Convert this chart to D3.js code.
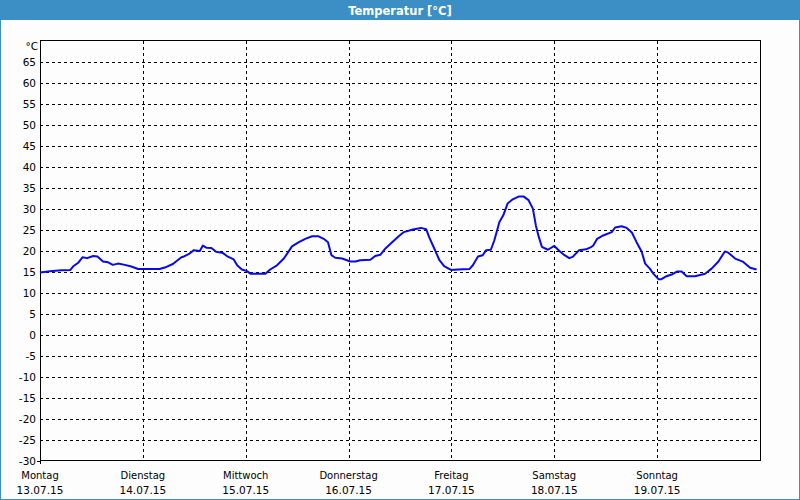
<!DOCTYPE html>
<html>
<head>
<meta charset="utf-8">
<script src="https://cdn.jsdelivr.net/npm/d3@7"></script>
<style>
html,body{margin:0;padding:0;background:#fff;}
svg{display:block;}
</style>
</head>
<body>
<svg id="chart" width="800" height="500"></svg>
<script>
const chartTitle = "Temperatur [°C]";
const unitLabel = "°C";
const dayNames = ["Montag","Dienstag","Mittwoch","Donnerstag","Freitag","Samstag","Sonntag"];
const dayDates = ["13.07.15","14.07.15","15.07.15","16.07.15","17.07.15","18.07.15","19.07.15"];
const yTicks = [-30,-25,-20,-15,-10,-5,0,5,10,15,20,25,30,35,40,45,50,55,60,65];
// hours since Monday 00:00
const hours = [0,2.3,5,7.1,7.7,8.9,9.9,11,12.4,13.4,14.7,15.9,17,18.2,19.8,21.3,22.9,24.4,27.9,29.5,31,33,33.6,34.9,35.9,37.3,38,38.8,40,41.1,42.7,
  43.6,45.2,46,47.1,48.3,49.1,52.6,53.7,55.3,56.9,58.8,60.4,61.9,63.5,65,66.2,67.2,68,68.9,70.5,72.4,73.6,74.7,77.1,78.2,79.4,80.6,82.1,83.7,84.9,
  87,88.9,90.1,90.8,92,93.2,94.3,95.9,97.5,100.2,101,102.2,103.3,104.1,105.2,106,107.2,108.1,109.1,110.3,111.8,112.8,114,115,115.7,116.4,117.1,118.5,120,121.2,122.4,123.5,124.3,125.8,127.4,128.7,
  129.1,130,131.4,133.4,134.2,135.7,136.9,138.1,139.2,140.4,141.2,142.3,143.1,144.3,145,146.2,147.4,148.6,149.7,150.9,152.8,155.2,156.7,158.3,159.8,160.6,162.2,164.1,165.7,167.2];
const temps = [14.9,15.2,15.4,15.5,16.3,17.2,18.5,18.3,18.8,18.7,17.5,17.3,16.7,17.0,16.7,16.3,15.7,15.7,15.7,16.2,16.9,18.5,18.7,19.4,20.2,20.0,21.3,20.8,20.7,19.8,19.5,
  18.8,18.0,16.6,15.6,15.2,14.6,14.6,15.6,16.6,18.2,21.1,22.1,22.9,23.5,23.5,22.9,22.1,19.0,18.4,18.2,17.5,17.5,17.8,17.9,18.8,19.1,20.6,22.0,23.5,24.5,
  25.1,25.5,25.2,23.3,20.6,17.8,16.4,15.5,15.6,15.7,16.6,18.7,19.0,20.2,20.3,22.5,26.9,28.5,31.3,32.3,33.0,33.0,32.1,30.1,26.1,23.3,21.0,20.3,21.2,20.0,19.0,18.3,18.6,20.2,20.4,21.0,
  21.3,22.9,23.7,24.5,25.6,25.9,25.5,24.4,22.1,19.8,17.0,15.8,14.6,13.3,13.3,14.0,14.4,15.1,15.1,14.0,14.0,14.6,15.8,17.5,19.9,19.6,18.2,17.4,16.0,15.6];

const svg = d3.select("#chart");
const W = 800, H = 500;
const m = {left:40, right:760, top:41, bottom:461};
const font = "DejaVu Sans, Verdana, sans-serif";

svg.append("rect").attr("x",0).attr("y",0).attr("width",W).attr("height",H).attr("fill","#fcfdfc");
// window border
svg.append("rect").attr("x",0.5).attr("y",0.5).attr("width",W-1).attr("height",H-1)
  .attr("fill","none").attr("stroke","#3c8fc4").attr("stroke-width",1);
// title bar
svg.append("rect").attr("x",0).attr("y",0).attr("width",W).attr("height",20).attr("fill","#3c8fc4");
svg.append("text").attr("x",400).attr("y",14.5).attr("text-anchor","middle")
  .attr("fill","#fff").attr("font-family",font).attr("font-weight","bold").attr("font-size","11.5px")
  .text(chartTitle);

const x = d3.scaleLinear().domain([0,168]).range([m.left,m.right]);
const y = d3.scaleLinear().domain([-30,70]).range([m.bottom,m.top]);

const g = svg.append("g").attr("shape-rendering","crispEdges");
// horizontal grid
g.selectAll("line.hg").data(yTicks.filter(v=>v>-30)).enter().append("line")
  .attr("x1",m.left).attr("x2",m.right)
  .attr("y1",d=>Math.round(y(d))+0.5).attr("y2",d=>Math.round(y(d))+0.5)
  .attr("stroke","#000").attr("stroke-dasharray","3,3");
// vertical grid
const dayHours = d3.range(1,7).map(i=>i*24);
g.selectAll("line.vg").data(dayHours).enter().append("line")
  .attr("x1",d=>Math.round(x(d))+0.5).attr("x2",d=>Math.round(x(d))+0.5)
  .attr("y1",m.top).attr("y2",m.bottom)
  .attr("stroke","#000").attr("stroke-dasharray","3,3");
// frame
g.append("rect").attr("x",m.left+0.5).attr("y",m.top-0.5).attr("width",m.right-m.left).attr("height",m.bottom-m.top)
  .attr("fill","none").attr("stroke","#000");
// small ticks at corner
g.append("line").attr("x1",m.left-3).attr("x2",m.left).attr("y1",m.bottom+0.5).attr("y2",m.bottom+0.5).attr("stroke","#000");
g.append("line").attr("x1",m.left+0.5).attr("x2",m.left+0.5).attr("y1",m.bottom).attr("y2",m.bottom+3).attr("stroke","#000");

// y labels
svg.selectAll("text.yl").data(yTicks).enter().append("text")
  .attr("x",36).attr("y",d=>y(d)+4).attr("text-anchor","end")
  .attr("font-family",font).attr("font-size","10.5px").attr("fill","#000")
  .text(d=>d);
svg.append("text").attr("x",38).attr("y",50).attr("text-anchor","end")
  .attr("font-family",font).attr("font-size","10.5px").attr("fill","#000").text(unitLabel);

// x labels
const days = d3.range(0,7).map(i=>i*24);
svg.selectAll("text.xd").data(days).enter().append("text")
  .attr("x",d=>x(d)).attr("y",479).attr("text-anchor","middle")
  .attr("font-family",font).attr("font-size","10px").attr("fill","#000")
  .text((d,i)=>dayNames[i]);
svg.selectAll("text.xt").data(days).enter().append("text")
  .attr("x",d=>x(d)).attr("y",494).attr("text-anchor","middle")
  .attr("font-family",font).attr("font-size","10.5px").attr("fill","#000")
  .text((d,i)=>dayDates[i]);

// line
const pts = hours.map((h,i)=>[h,temps[i]]);
svg.append("path").datum(pts)
  .attr("d",d3.line().x(d=>x(d[0])).y(d=>y(d[1])))
  .attr("fill","none").attr("stroke","#0a0ae6").attr("stroke-width",2).attr("stroke-linejoin","round");
</script>
</body>
</html>
